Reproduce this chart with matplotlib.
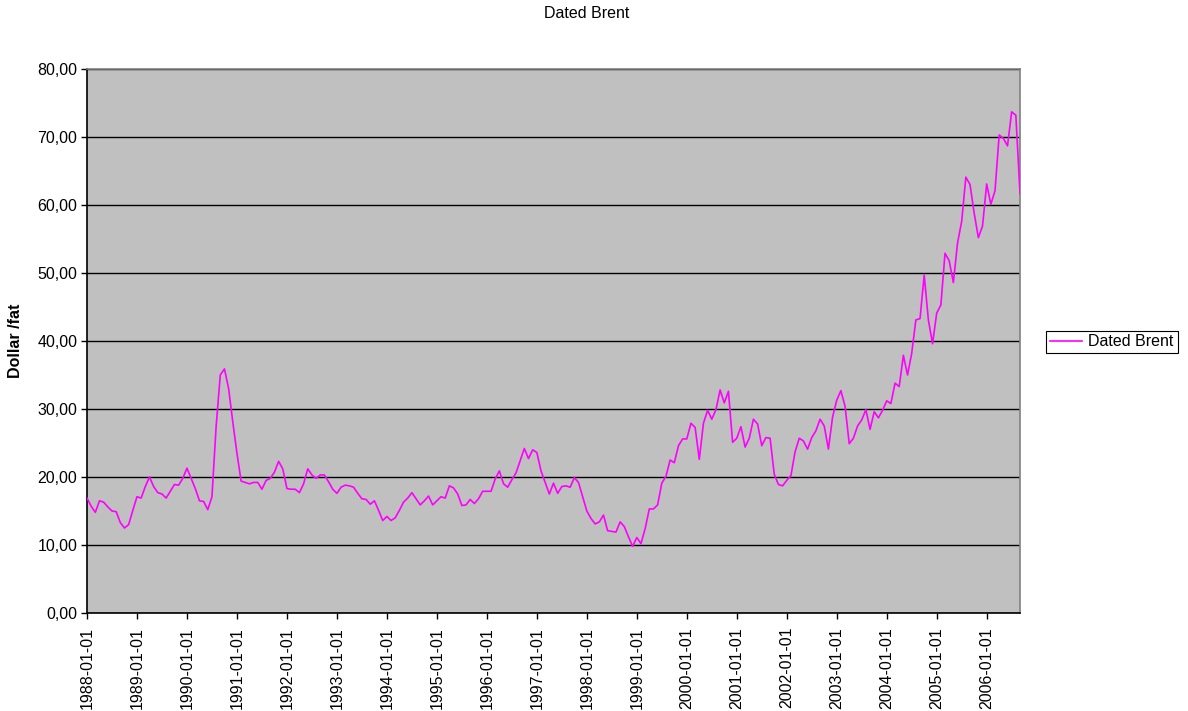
import pandas as pd
import matplotlib.pyplot as plt
from matplotlib.ticker import FuncFormatter

plt.rcParams['font.family'] = ['Liberation Sans', 'DejaVu Sans']

# Månedlige priser, Dated Brent (dollar per fat), jan 1988 - sep 2006
p1988 = [16.9, 15.7, 14.8, 16.5, 16.3, 15.6, 15.0, 14.9, 13.3, 12.5, 13.0, 15.1]
p1989 = [17.1, 16.9, 18.6, 20.0, 18.6, 17.7, 17.5, 16.9, 17.9, 18.9, 18.8, 19.8]
p1990 = [21.3, 19.8, 18.3, 16.5, 16.4, 15.2, 17.1, 27.4, 35.0, 35.9, 33.0, 28.1]
p1991 = [23.5, 19.4, 19.2, 19.0, 19.2, 19.2, 18.2, 19.5, 19.8, 20.7, 22.3, 21.2]
p1992 = [18.3, 18.2, 18.2, 17.7, 19.0, 21.2, 20.3, 19.8, 20.3, 20.3, 19.3, 18.2]
p1993 = [17.6, 18.5, 18.8, 18.7, 18.5, 17.6, 16.8, 16.7, 16.0, 16.5, 15.1, 13.6]
p1994 = [14.2, 13.6, 14.0, 15.1, 16.3, 16.9, 17.7, 16.8, 15.9, 16.5, 17.2, 15.9]
p1995 = [16.5, 17.1, 16.9, 18.7, 18.4, 17.5, 15.8, 15.9, 16.7, 16.1, 16.8, 17.9]
p1996 = [17.9, 17.9, 19.7, 20.9, 19.0, 18.5, 19.6, 20.6, 22.4, 24.2, 22.7, 24.0]
p1997 = [23.6, 20.9, 19.2, 17.5, 19.1, 17.6, 18.6, 18.7, 18.5, 19.9, 19.2, 17.1]
p1998 = [15.0, 13.9, 13.1, 13.4, 14.4, 12.1, 12.0, 11.9, 13.4, 12.7, 11.2, 9.8]
p1999 = [11.1, 10.2, 12.4, 15.3, 15.3, 15.9, 19.1, 20.1, 22.5, 22.1, 24.6, 25.6]
p2000 = [25.6, 27.9, 27.3, 22.6, 27.9, 29.8, 28.5, 29.9, 32.8, 30.9, 32.6, 25.1]
p2001 = [25.7, 27.4, 24.4, 25.7, 28.5, 27.8, 24.6, 25.8, 25.7, 20.4, 18.9, 18.7]
p2002 = [19.5, 20.2, 23.7, 25.7, 25.3, 24.1, 25.8, 26.8, 28.5, 27.5, 24.1, 28.8]
p2003 = [31.3, 32.7, 30.4, 24.9, 25.7, 27.5, 28.4, 29.9, 27.0, 29.6, 28.7, 29.8]
p2004 = [31.2, 30.8, 33.8, 33.3, 37.9, 35.0, 38.2, 43.1, 43.3, 49.7, 43.1, 39.6]
p2005 = [44.1, 45.3, 52.9, 51.8, 48.6, 54.4, 57.6, 64.1, 63.0, 58.8, 55.2, 56.9]
p2006 = [63.1, 60.1, 62.1, 70.3, 69.8, 68.7, 73.7, 73.2, 61.7]

pris = (p1988 + p1989 + p1990 + p1991 + p1992 + p1993 + p1994 + p1995 + p1996
        + p1997 + p1998 + p1999 + p2000 + p2001 + p2002 + p2003 + p2004 + p2005 + p2006)
datoer = pd.date_range('1988-01-01', periods=len(pris), freq='MS')

fig = plt.figure(figsize=(11.88, 7.11), dpi=100)
ax = fig.add_axes([87 / 1188, 1 - 613 / 711, (1020 - 87) / 1188, (613 - 69) / 711])
ax.set_facecolor('#c0c0c0')

x = list(range(len(pris)))
ax.plot(x, pris, color='#ff00ff', lw=1.2, label='Dated Brent', zorder=3)

ax.set_xlim(0, len(pris) - 1)
ax.set_ylim(0, 80)
ax.set_yticks(range(0, 81, 10))
ax.yaxis.set_major_formatter(FuncFormatter(lambda v, pos: f'{v:.2f}'.replace('.', ',')))

jan = [i for i, d in enumerate(datoer) if d.month == 1]
ax.set_xticks(jan)
ax.set_xticklabels([datoer[i].strftime('%Y-%m-%d') for i in jan], rotation=90)

ax.grid(axis='y', color='black', lw=1.0, zorder=1)
ax.set_axisbelow(True)
ax.tick_params(axis='both', length=4, width=1, labelsize=11.5, color='black')
ax.tick_params(axis='x', pad=6)
ax.tick_params(axis='y', pad=3)

for side in ['left', 'bottom']:
    ax.spines[side].set_color('black')
    ax.spines[side].set_linewidth(1.2)
for side in ['top', 'right']:
    ax.spines[side].set_color('#808080')
    ax.spines[side].set_linewidth(1.2)

ax.set_ylabel('Dollar /fat', fontsize=11.5, fontweight='bold')
ax.yaxis.set_label_coords(-0.0686, 0.5)
fig.text(587 / 1188, 1 - 14 / 711, 'Dated Brent', ha='center', va='center', fontsize=11.5)

leg = fig.legend(loc='center left', bbox_to_anchor=(1046 / 1188, 1 - 342 / 711),
                 fontsize=11.5, fancybox=False, edgecolor='black', framealpha=1,
                 handlelength=2.0, borderpad=0.25, borderaxespad=0, handletextpad=0.4)
leg.get_frame().set_linewidth(0.8)

fig.savefig('out.png', dpi=100)
